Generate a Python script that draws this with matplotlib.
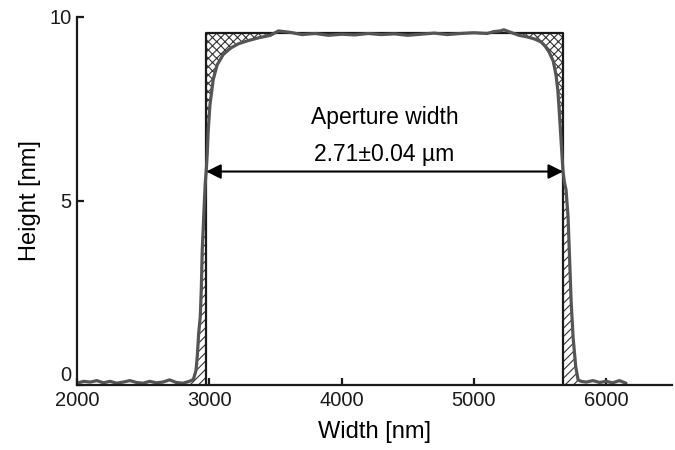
import matplotlib
matplotlib.use('Agg')
import matplotlib.pyplot as plt
import numpy as np

# profile
width_nm = [2000, 2050, 2100, 2150, 2200, 2250, 2300, 2350, 2400, 2450, 2500,
            2550, 2600, 2650, 2700, 2750, 2800, 2850, 2880, 2900, 2910, 2920,
            2932, 2940, 2947, 2955, 2962, 2970, 2977, 2985, 2992, 3005, 3030,
            3060, 3106, 3160, 3220, 3288, 3370, 3462, 3523, 3614, 3700, 3800,
            3900, 4000, 4100, 4200, 4300, 4400, 4500, 4600, 4700, 4800, 4900,
            5000, 5100, 5150, 5200, 5227, 5280, 5341, 5400, 5460, 5508, 5540,
            5568, 5600, 5621, 5635, 5644, 5660, 5674, 5685, 5697, 5712, 5725,
            5735, 5750, 5770, 5788, 5811, 5850, 5900, 5950, 6000, 6050, 6100,
            6150]
height_nm = [0.05, 0.10, 0.08, 0.12, 0.06, 0.10, 0.05, 0.08, 0.12, 0.07, 0.05,
             0.10, 0.06, 0.08, 0.14, 0.07, 0.05, 0.10, 0.15, 0.40, 0.80, 1.40,
             1.85, 2.60, 3.67, 4.30, 4.90, 5.50, 5.80, 6.30, 6.90, 7.60, 8.30,
             8.70, 8.98, 9.15, 9.27, 9.35, 9.43, 9.50, 9.62, 9.58, 9.52, 9.55,
             9.50, 9.53, 9.51, 9.55, 9.52, 9.54, 9.50, 9.53, 9.56, 9.52, 9.55,
             9.57, 9.55, 9.60, 9.62, 9.65, 9.58, 9.50, 9.46, 9.40, 9.32, 9.20,
             9.05, 8.80, 8.42, 8.00, 7.53, 6.60, 5.80, 5.50, 5.30, 4.57, 3.30,
             2.30, 1.30, 0.50, 0.14, 0.10, 0.08, 0.12, 0.07, 0.10, 0.06, 0.12,
             0.05]

# idealised aperture
ap_left = 2977
ap_right = 5674
ap_height = 9.55
arrow_y = 5.8

x = np.array(width_nm)
y = np.array(height_nm)

plt.rcParams['font.family'] = ['Liberation Sans', 'DejaVu Sans']
plt.rcParams['hatch.linewidth'] = 0.8

fig = plt.figure(figsize=(6.75, 4.5), dpi=100)
ax = fig.add_axes([0.114, 0.1444, 0.882, 0.818])

# hatched corners (cross) and feet (diagonal)
top_l = (x >= ap_left) & (x <= 3700)
top_r = (x >= 5200) & (x <= ap_right)
ax.fill_between(x, y, ap_height, where=top_l, facecolor='none',
                edgecolor='#333333', hatch='xxxx', linewidth=0, interpolate=True)
ax.fill_between(x, y, ap_height, where=top_r, facecolor='none',
                edgecolor='#333333', hatch='xxxx', linewidth=0, interpolate=True)
foot_l = (x >= 2850) & (x <= ap_left)
foot_r = (x >= ap_right) & (x <= 5830)
ax.fill_between(x, 0, y, where=foot_l, facecolor='none',
                edgecolor='#333333', hatch='////', linewidth=0)
ax.fill_between(x, 0, y, where=foot_r, facecolor='none',
                edgecolor='#333333', hatch='////', linewidth=0)

# rectangle
ax.plot([ap_left, ap_left, ap_right, ap_right], [0, ap_height, ap_height, 0],
        color='#1a1a1a', lw=1.6)

ax.plot(x, y, color='#555555', lw=2.3, solid_capstyle='round')

ax.annotate('', xy=(ap_left, arrow_y), xytext=(ap_right, arrow_y),
            arrowprops=dict(arrowstyle='<|-|>', color='black', lw=1.5,
                            mutation_scale=22, shrinkA=0, shrinkB=0))
mid = (ap_left + ap_right) / 2
ax.text(mid, 7.28, 'Aperture width', ha='center', va='center', fontsize=16.5)
ax.text(mid, 6.25, '2.71±0.04 µm', ha='center', va='center', fontsize=16.5)

ax.set_xlim(2000, 6500)
ax.set_ylim(0, 10)
ax.set_xticks([2000, 3000, 4000, 5000, 6000])
ax.set_yticks([0, 5, 10])
for s in ['top', 'right']:
    ax.spines[s].set_visible(False)
for s in ['left', 'bottom']:
    ax.spines[s].set_linewidth(1.6)
    ax.spines[s].set_color('#1a1a1a')
ax.tick_params(direction='in', length=5, width=1.6, labelsize=14.5,
               colors='#1a1a1a', pad=4)
ax.get_yticklabels()[0].set_va('bottom')
ax.set_xlabel('Width [nm]', fontsize=17, labelpad=8)
ax.set_ylabel('Height [nm]', fontsize=17, labelpad=6)

fig.savefig('out.png', dpi=100)
